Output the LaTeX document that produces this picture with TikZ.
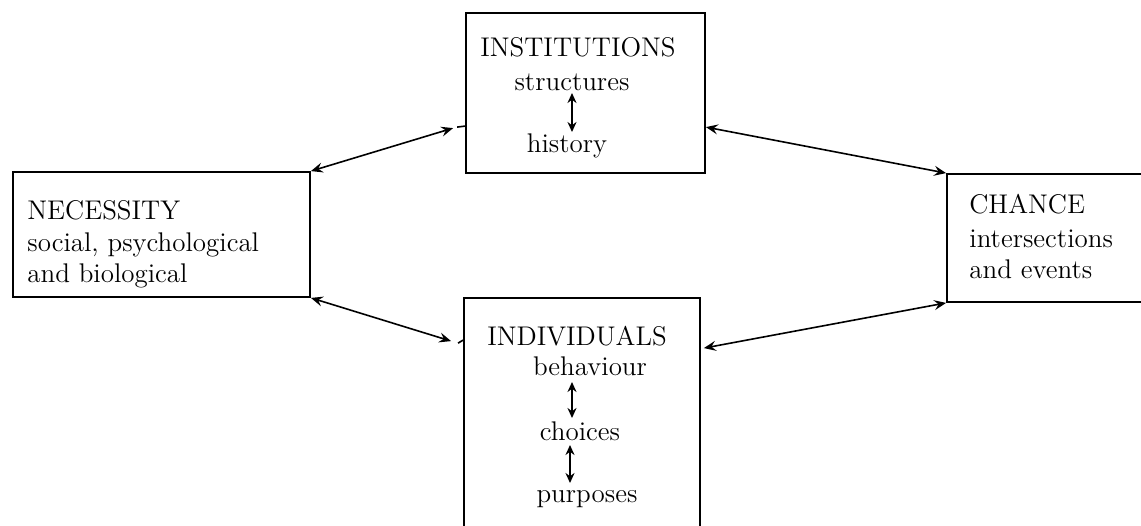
\documentclass[tikz,border=0pt]{standalone}
\usetikzlibrary{arrows.meta,fit,calc}
\begin{document}
\begin{tikzpicture}[x=0.5pt,y=-0.5pt,
  box/.style={draw, line width=0.9pt, inner sep=0pt},
  lbl/.style={inner sep=0pt, font=\fontsize{13.5}{16}\selectfont},
  conn/.style={line width=0.8pt,
    {Stealth[length=6pt,width=5pt,inset=2.2pt]}-{Stealth[length=6pt,width=5pt,inset=2.2pt]}},
  link/.style={line width=1.4pt,
    {Stealth[length=5pt,width=4.5pt]}-{Stealth[length=5pt,width=4.5pt]}},
  tickmark/.style={line width=0.8pt}]
\clip (0,0) rectangle (1141,525);
\fill[white] (0,0) rectangle (1141,525);

% the four boxes (CHANCE and INDIVIDUALS run off the edge)
\node[box, fit={(13,172) (310,297)}] (nec) {};
\node[box, fit={(466,13) (705,173)}] (inst) {};
\node[box, fit={(947,174) (1180,302)}] (chance) {};
\node[box, fit={(464,298) (700,560)}] (ind) {};

% box texts
\node[lbl, anchor=base west] (necA) at (27,219) {NECESSITY};
\node[lbl, anchor=base west] (necB) at (27,251) {social, psychological};
\node[lbl, anchor=base west] (necC) at (27,282) {and biological};

\node[lbl, anchor=base west] (chA) at (969,213) {CHANCE};
\node[lbl, anchor=base west] (chB) at (969,247) {intersections};
\node[lbl, anchor=base west] (chC) at (969,278) {and events};

\node[lbl, anchor=base] (instA) at (578,56) {INSTITUTIONS};
\node[lbl, anchor=base] (instB) at (572,90) {structures};
\node[lbl, anchor=base] (instC) at (567,152) {history};

\node[lbl, anchor=base] (indA) at (577,345) {INDIVIDUALS};
\node[lbl, anchor=base] (indB) at (590,375) {behaviour};
\node[lbl, anchor=base] (indC) at (580,440) {choices};
\node[lbl, anchor=base] (indD) at (587,502) {purposes};

% short two-way arrows inside the boxes
\coordinate (sTop) at (572,93);  \coordinate (sBot) at (572,132);
\coordinate (bTop) at (572,382); \coordinate (bBot) at (572,418);
\coordinate (cTop) at (570,445); \coordinate (cBot) at (570,483);
\draw[link] (sTop) -- (sBot);
\draw[link] (bTop) -- (bBot);
\draw[link] (cTop) -- (cBot);

% connectors between the boxes
\coordinate (instW) at ($(inst.north west)+(-12,116)$);
\coordinate (instE) at ($(inst.north east)+(0,115)$);
\coordinate (indW)  at ($(ind.north west)+(-12,44)$);
\coordinate (indE)  at ($(ind.north east)+(3,51)$);

\draw[conn] (nec.north east) -- (instW);
\draw[conn] (instE) -- (chance.north west);
\draw[conn] (nec.south east) -- (indW);
\draw[conn] (indE) -- (chance.south west);

% small marks where the left connectors meet the boxes
\draw[tickmark] ($(instW)+(4,-1)$) -- ($(inst.north west)+(0,114)$);
\draw[tickmark] ($(indW)+(7,2)$) -- ($(ind.north west)+(0,43)$);
\end{tikzpicture}
\end{document}
